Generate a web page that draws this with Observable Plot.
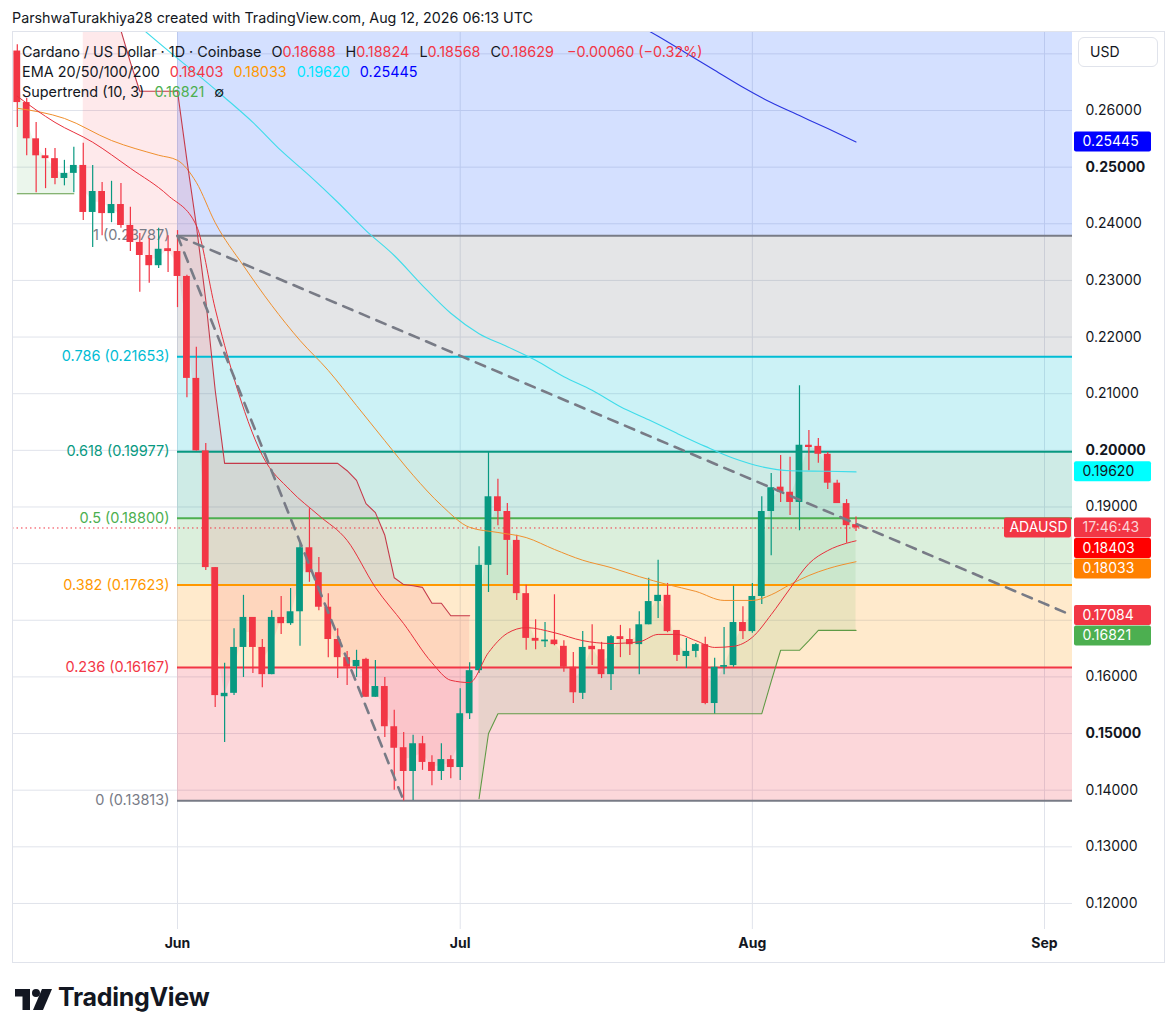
<!DOCTYPE html>
<html><head><meta charset="utf-8">
<script src="https://cdn.jsdelivr.net/npm/d3@7"></script>
<script src="https://cdn.jsdelivr.net/npm/@observablehq/plot@0.6"></script>
<style>
body{margin:0;background:#fff;font-family:Inter,"Noto Sans",sans-serif;color:#131722;}
#wrap{position:relative;width:1176px;height:1034px;overflow:hidden;background:#fff;}
#chart{position:absolute;left:0;top:0;}
.ov{position:absolute;white-space:nowrap;}
.red{color:#f23645}
.g{margin-left:10px}
</style></head><body><div id="wrap">
<div id="chart"></div>
<div class="ov" style="left:12px;top:31px;width:1151px;height:930px;border:1px solid #e0e3eb;pointer-events:none"></div>
<div class="ov" style="left:12px;top:9px;font-size:14.3px;">ParshwaTurakhiya28 created with TradingView.com, Aug 12, 2026 06:13 UTC</div>
<div class="ov" style="left:22px;top:43px;font-size:14.4px;">Cardano / US Dollar · 1D · Coinbase<span class="g">O<span class="red">0.18688</span></span><span class="g">H<span class="red">0.18824</span></span><span class="g">L<span class="red">0.18568</span></span><span class="g">C<span class="red">0.18629</span></span><span class="g red" style="margin-left:13px">−0.00060 (−0.32%)</span></div>
<div class="ov" style="left:22px;top:63px;font-size:14.4px;">EMA 20/50/100/200<span class="g" style="color:#f23645">0.18403</span><span class="g" style="color:#ff9800">0.18033</span><span class="g" style="color:#00e5ff">0.19620</span><span class="g" style="color:#0000ff">0.25445</span></div>
<div class="ov" style="left:22px;top:83px;font-size:14.4px;">Supertrend (10, 3)<span class="g" style="color:#4caf50">0.16821</span><span class="g">∅</span></div>
<div class="ov" style="left:1078px;top:37px;width:80px;height:30px;border:1px solid #e0e3eb;border-radius:6px;box-sizing:border-box;font-size:14px;line-height:28px;padding-left:11px;background:#fff">USD</div>
<div class="ov" style="left:15px;top:989px;">
<svg width="38" height="21" viewBox="0 0 38 21"><path d="M0 0H15V21H7.5V7.5H0Z" fill="#131722"/><circle cx="21" cy="4" r="4" fill="#131722"/><path d="M27 0H37L28 21H18Z" fill="#131722"/></svg></div>
<div class="ov" style="left:58px;top:982px;font-size:25px;font-weight:700;letter-spacing:-0.3px">TradingView</div>
</div>
<script>
// ---------- data ----------
const firstBarDate = "2026-05-15";
const open  = [0.2705,0.2614,0.2550,0.2520,0.2515,0.2480,0.2489,0.2503,0.2420,0.2457,0.2418,0.2434,0.2397,0.2367,0.2344,0.2326,0.2356,0.2351,0.2307,0.2127,0.1999,0.1793,0.1565,0.1571,0.1652,0.1705,0.1652,0.1604,0.1705,0.1694,0.1715,0.1828,0.1784,0.1723,0.1666,0.1634,0.1618,0.1631,0.1564,0.1583,0.1512,0.1475,0.1433,0.1482,0.1449,0.1433,0.1454,0.1440,0.1535,0.1611,0.1797,0.1918,0.1892,0.1841,0.1747,0.1668,0.1662,0.1665,0.1654,0.1617,0.1571,0.1654,0.1648,0.1604,0.1671,0.1666,0.1657,0.1692,0.1733,0.1744,0.1682,0.1636,0.1645,0.1657,0.1553,0.1617,0.1620,0.1696,0.1680,0.1742,0.1892,0.1935,0.1926,0.1908,0.2009,0.2007,0.1993,0.1942,0.1906,0.18688];
const high  = [0.2716,0.2621,0.2579,0.2533,0.2533,0.2512,0.2535,0.2542,0.2503,0.2473,0.2475,0.2471,0.2429,0.2383,0.2374,0.2392,0.2379,0.2388,0.2309,0.2182,0.2012,0.1793,0.1624,0.1685,0.1744,0.1705,0.1666,0.1717,0.1742,0.1756,0.1835,0.1897,0.1811,0.1747,0.1685,0.1645,0.1647,0.1633,0.1629,0.1599,0.1541,0.1502,0.1497,0.1495,0.1461,0.1482,0.1461,0.1579,0.1625,0.1830,0.1996,0.1949,0.1906,0.1850,0.1762,0.1701,0.1696,0.1745,0.1664,0.1643,0.1680,0.1692,0.1661,0.1673,0.1691,0.1685,0.1715,0.1774,0.1806,0.1765,0.1682,0.1668,0.1659,0.1670,0.1633,0.1687,0.1760,0.1724,0.1765,0.1918,0.1959,0.1991,0.1988,0.2114,0.2035,0.2021,0.1996,0.1947,0.1913,0.18824];
const low   = [0.2570,0.2520,0.2455,0.2462,0.2469,0.2467,0.2455,0.2406,0.2358,0.2379,0.2402,0.2392,0.2351,0.2279,0.2295,0.2321,0.2314,0.2252,0.2093,0.1999,0.1788,0.1546,0.1484,0.1567,0.1599,0.1606,0.1581,0.1604,0.1675,0.1691,0.1654,0.1767,0.1717,0.1634,0.1597,0.1585,0.1599,0.1564,0.1564,0.1493,0.1400,0.1381,0.1382,0.1435,0.1408,0.1417,0.1420,0.1417,0.1525,0.1606,0.1749,0.1867,0.1779,0.1735,0.1647,0.1648,0.1652,0.1655,0.1608,0.1553,0.1560,0.1620,0.1597,0.1576,0.1634,0.1638,0.1604,0.1692,0.1703,0.1678,0.1627,0.1615,0.1634,0.1551,0.1534,0.1604,0.1617,0.1666,0.1677,0.1728,0.1814,0.1908,0.1885,0.1858,0.1964,0.1977,0.1931,0.1906,0.1836,0.18568];
const close = [0.2614,0.2550,0.2520,0.2515,0.2480,0.2489,0.2503,0.2420,0.2457,0.2418,0.2434,0.2397,0.2367,0.2344,0.2326,0.2355,0.2351,0.2307,0.2127,0.1999,0.1793,0.1567,0.1571,0.1652,0.1705,0.1652,0.1604,0.1705,0.1694,0.1715,0.1828,0.1784,0.1723,0.1666,0.1634,0.1617,0.1629,0.1564,0.1583,0.1512,0.1474,0.1433,0.1482,0.1449,0.1433,0.1454,0.1440,0.1535,0.1611,0.1797,0.1918,0.1892,0.1841,0.1747,0.1668,0.1663,0.1665,0.1657,0.1617,0.1572,0.1652,0.1648,0.1604,0.1671,0.1666,0.1657,0.1692,0.1733,0.1744,0.1680,0.1638,0.1645,0.1657,0.1553,0.1617,0.1620,0.1696,0.1680,0.1742,0.1892,0.1934,0.1926,0.1908,0.2009,0.2005,0.1993,0.1942,0.1906,0.1867,0.18629];

// Supertrend (10,3): value per bar, trend flips at these bar indexes (starts up)
const stValue = [0.2453,0.2453,0.2453,0.2453,0.2453,0.2453,0.2453,
  0.2790,0.2785,0.2780,0.2760,0.2741,0.2685,0.2634,0.2634,0.2634,0.2634,0.2634,0.2512,0.2397,0.2265,0.2106,
  0.1977,0.1977,0.1977,0.1977,0.1977,0.1977,0.1977,0.1977,0.1977,0.1977,0.1977,0.1977,0.1977,
  0.1964,0.1947,0.1906,0.1890,0.1850,0.1775,0.1763,0.1761,0.1758,0.1730,0.1730,0.1708,0.1708,0.1708,
  0.1385,0.1500,0.1535,0.1535,0.1535,0.1535,0.1535,0.1535,0.1535,0.1535,0.1535,0.1535,0.1535,0.1535,0.1535,0.1535,
  0.1535,0.1535,0.1535,0.1535,0.1535,0.1535,0.1535,0.1535,0.1535,0.1535,0.1535,0.1535,0.1535,0.1535,0.1535,
  0.1592,0.1647,0.1647,0.1647,0.1664,0.16821,0.16821,0.16821,0.16821,0.16821];
const stFlips = [7, 49];

// EMAs: day offset from Jun 1 and value
const ema20Day = [-17,-13,-9,-5,-1,2,4,6,9,12,15,18,21,24,27,29,31,33,35,37,40,43,46,49,51,53,55,57,59,61,63,65,67,69,71,72];
const ema20Val = [0.2625,0.2579,0.2544,0.2498,0.2450,0.2397,0.2250,0.2127,0.1991,0.1929,0.1885,0.1841,0.1758,0.1694,0.1625,0.1594,0.1590,0.1643,0.1677,0.1687,0.1678,0.1664,0.1659,0.1662,0.1675,0.1675,0.1664,0.1652,0.1654,0.1670,0.1710,0.1756,0.1800,0.1823,0.1836,0.18403];
const ema50Day = [-17,-12,-7,-2,0,2,4,7,10,13,16,19,22,25,28,31,34,37,40,43,46,49,52,55,58,61,63,65,67,69,72];
const ema50Val = [0.2604,0.2586,0.2547,0.2521,0.2512,0.2473,0.2402,0.2326,0.2256,0.2194,0.2141,0.2079,0.2017,0.1956,0.1903,0.1864,0.1855,0.1846,0.1825,0.1806,0.1793,0.1777,0.1763,0.1751,0.1735,0.1735,0.1745,0.1763,0.1779,0.1791,0.18033];
const ema100Day = [-5,0,2,5,8,11,14,17,20,23,26,29,32,35,38,41,44,47,50,53,56,59,62,65,69,72];
const ema100Val = [0.2762,0.2692,0.2665,0.2623,0.2579,0.2529,0.2485,0.2438,0.2388,0.2344,0.2291,0.2242,0.2206,0.2183,0.2159,0.2130,0.2106,0.2077,0.2054,0.2030,0.2007,0.1986,0.1971,0.1964,0.1963,0.19620];
const ema200Day = [49,51,54,57,60,63,66,69,72];
const ema200Val = [0.2750,0.2731,0.2701,0.2671,0.2641,0.2614,0.2591,0.2568,0.25445];

// Fibonacci retracement
const fibRatio  = [1, 0.786, 0.618, 0.5, 0.382, 0.236, 0];
const fibPrice  = [0.23787, 0.21653, 0.19977, 0.18800, 0.17623, 0.16167, 0.13813];
const fibColor  = ["#787b86","#00bcd4","#089981","#4caf50","#ff9800","#f23645","#787b86"];
const fibExtPrice = 0.29951, fibExtColor = "#2962ff";
const fibStartDate = "2026-06-01";

// dashed trend lines
const trendA = [["2026-06-01", 0.23787], ["2026-09-03T04:00", 0.17140]];
const trendB = [["2026-06-01", 0.23787], ["2026-06-25", 0.13813]];

const lastPrice = 0.18629;
const monthTicks = ["2026-06-01","2026-07-01","2026-08-01","2026-09-01"];
const monthLabels = ["Jun","Jul","Aug","Sep"];
const gridPrices = [0.12,0.13,0.14,0.15,0.16,0.17,0.18,0.19,0.20,0.21,0.22,0.23,0.24,0.25,0.26,0.27];
const axisPrices = [0.12,0.13,0.14,0.16,0.19,0.21,0.22,0.23,0.24,0.26];
const axisPricesBold = [0.15,0.20,0.25];

const badgeText  = ["0.25445","0.19620","17:46:43","0.18403","0.18033","0.17084","0.16821"];
const badgeValue = [0.25445,0.19620,0.18629,0.18403,0.18033,0.17084,0.16821];
const badgeFill  = ["#0000ff","#00ffff","#f23645","#ff0000","#ff8000","#f23645","#4caf50"];
const badgeInk   = ["#ffffff","#131722","#fcd3d6","#ffffff","#ffffff","#ffffff","#ffffff"];

// ---------- layout ----------
const DAY = 864e5;
const W = 1176, H = 1034, mL = 12, mR = 104, mT = 32, mB = 105;
const jun1 = Date.UTC(2026,5,1);
const pxPerDay = 9.4239;
const xLeft = new Date(jun1 - 165/pxPerDay*DAY);
const xRight = new Date(jun1 + 895/pxPerDay*DAY);
const yDomain = [0.115403, 0.273771];
const pxPerUnit = (H - mT - mB)/(yDomain[1]-yDomain[0]);
const pxT = px => px/pxPerDay*DAY;      // pixels -> ms
const pxP = px => px/pxPerUnit;         // pixels -> price

const t0 = Date.parse(firstBarDate);
const bars = open.map((o,i)=>{
  let lo = Math.min(o, close[i]), hi = Math.max(o, close[i]);
  const mn = pxP(1.2);
  if (hi - lo < mn) { const m=(hi+lo)/2; lo=m-mn/2; hi=m+mn/2; }
  return {date:new Date(t0+i*DAY), o, h:high[i], l:low[i], c:close[i], lo, hi, up: close[i] >= o};
});
const UP = "#089981", DN = "#f23645";
const st = stValue.map((v,i)=>{
  const seg = stFlips.filter(f=>f<=i).length;
  return {date:new Date(t0+i*DAY), v, mid:(open[i]+close[i])/2, seg, up: seg%2===0};
});
const emaData = (days, vals) => days.map((d,i)=>({date:new Date(jun1+d*DAY), v:vals[i]}));

const fibStart = new Date(fibStartDate);
const bands = [{y1:fibPrice[0], y2:fibExtPrice, col:fibExtColor}];
for (let i=0;i<fibPrice.length-1;i++) bands.push({y1:fibPrice[i+1], y2:fibPrice[i], col:fibColor[i]});
const fibs = fibRatio.map((r,i)=>({r, p:fibPrice[i], col:fibColor[i]}));

// badge placement (avoid overlap)
const badges = badgeText.map((t,i)=>({t, v:badgeValue[i], fill:badgeFill[i], ink:badgeInk[i]}))
  .sort((a,b)=>b.v-a.v);
let prevY = -Infinity;
badges.forEach(b=>{
  let y = (yDomain[1]-b.v)*pxPerUnit;
  if (y < prevY + 20.5) y = prevY + 20.5;
  b.yd = yDomain[1] - y/pxPerUnit; prevY = y;
});
const adaBadge = badges.find(b=>b.t==="17:46:43");

const font = "Inter, 'Noto Sans', sans-serif";
const xR = () => xRight;
const marks = [
  Plot.ruleY(gridPrices, {stroke:"#e0e3eb", strokeWidth:1}),
  Plot.ruleX(monthTicks.map(d=>new Date(d)), {stroke:"#e0e3eb", strokeWidth:1}),
  Plot.rect(bands, {x1:()=>fibStart, x2:xR, y1:"y1", y2:"y2", fill:"col", fillOpacity:0.2, clip:true}),
  Plot.areaY(st.filter(d=>d.up), {x:"date", y1:"v", y2:"mid", z:"seg", fill:"#4caf50", fillOpacity:0.11, clip:true}),
  Plot.areaY(st.filter(d=>!d.up), {x:"date", y1:"v", y2:"mid", z:"seg", fill:"#f23645", fillOpacity:0.11, clip:true}),
  Plot.ruleY(fibs, {y:"p", x1:()=>fibStart, x2:xR, stroke:"col", strokeWidth:2}),
  Plot.text(fibs, {x:()=>fibStart, y:"p", text:d=>`${d.r} (${d.p.toFixed(5)})`, fill:"col", textAnchor:"end", dx:-8, fontSize:14.5, fontFamily:font}),
  Plot.ruleY([lastPrice], {stroke:"#f23645", strokeWidth:1, strokeDasharray:"1.5,3"}),
  Plot.ruleX(bars.filter(b=>b.up), {x:"date", y1:"l", y2:"h", stroke:UP, strokeWidth:1.2}),
  Plot.ruleX(bars.filter(b=>!b.up), {x:"date", y1:"l", y2:"h", stroke:DN, strokeWidth:1.2}),
  Plot.rect(bars.filter(b=>b.up), {x1:b=>new Date(+b.date-0.36*DAY), x2:b=>new Date(+b.date+0.36*DAY), y1:"lo", y2:"hi", fill:UP}),
  Plot.rect(bars.filter(b=>!b.up), {x1:b=>new Date(+b.date-0.36*DAY), x2:b=>new Date(+b.date+0.36*DAY), y1:"lo", y2:"hi", fill:DN}),
  Plot.line(emaData(ema200Day, ema200Val), {x:"date", y:"v", stroke:"#2a35e0", strokeWidth:1.1, curve:"monotone-x", clip:true}),
  Plot.line(emaData(ema100Day, ema100Val), {x:"date", y:"v", stroke:"#3fdcea", strokeWidth:1.1, curve:"monotone-x", clip:true}),
  Plot.line(emaData(ema50Day, ema50Val), {x:"date", y:"v", stroke:"#f0902e", strokeWidth:1, curve:"monotone-x", clip:true}),
  Plot.line(emaData(ema20Day, ema20Val), {x:"date", y:"v", stroke:"#e8303c", strokeWidth:1, curve:"monotone-x", clip:true}),
  Plot.line(st.filter(d=>d.up), {x:"date", y:"v", z:"seg", stroke:"#5f9a45", strokeWidth:1.1, clip:true}),
  Plot.line(st.filter(d=>!d.up), {x:"date", y:"v", z:"seg", stroke:"#c53a4a", strokeWidth:1.1, clip:true}),
  Plot.line(trendA, {x:d=>new Date(d[0]), y:d=>d[1], stroke:"#787b86", strokeWidth:2.6, strokeDasharray:"10,8", clip:true}),
  Plot.line(trendB, {x:d=>new Date(d[0]), y:d=>d[1], stroke:"#787b86", strokeWidth:2.6, strokeDasharray:"10,8", clip:true}),
  // x axis labels
  Plot.text(monthTicks.map(d=>new Date(d)), {x:d=>d, frameAnchor:"bottom", dy:18, text:(d,i)=>monthLabels[i], fontSize:14, fontWeight:700, fontFamily:font, fill:"#131722"}),
  // y axis labels
  Plot.text(axisPrices, {x:xR, y:d=>d, text:d=>d.toFixed(5), dx:13, textAnchor:"start", fontSize:14, fontFamily:font, fill:"#131722"}),
  Plot.text(axisPricesBold, {x:xR, y:d=>d, text:d=>d.toFixed(5), dx:13, textAnchor:"start", fontSize:14, fontWeight:700, fontFamily:font, fill:"#131722"}),
  // badges
  Plot.rect(badges, {x1:()=>new Date(+xRight+pxT(2)), x2:()=>new Date(+xRight+pxT(79)), y1:d=>d.yd-pxP(10), y2:d=>d.yd+pxP(10), fill:"fill", rx:2}),
  Plot.text(badges, {x:xR, y:"yd", text:"t", fill:"ink", dx:10, textAnchor:"start", fontSize:14, fontFamily:font}),
  Plot.rect([adaBadge], {x1:()=>new Date(+xRight-pxT(68)), x2:()=>new Date(+xRight-pxT(1)), y1:d=>d.yd-pxP(10), y2:d=>d.yd+pxP(10), fill:"#f23645", rx:2}),
  Plot.text([adaBadge], {x:()=>new Date(+xRight-pxT(34)), y:"yd", text:()=>"ADAUSD", fill:"#ffffff", fontSize:14, fontFamily:font})
];

const chart = Plot.plot({
  width:W, height:H, marginLeft:mL, marginRight:mR, marginTop:mT, marginBottom:mB,
  x:{type:"utc", domain:[xLeft, xRight], axis:null},
  y:{domain:yDomain, axis:null},
  color:{type:"identity"},
  style:{background:"transparent", fontFamily:font, overflow:"visible"},
  marks
});
document.getElementById("chart").appendChild(chart);
</script>
</body></html>
